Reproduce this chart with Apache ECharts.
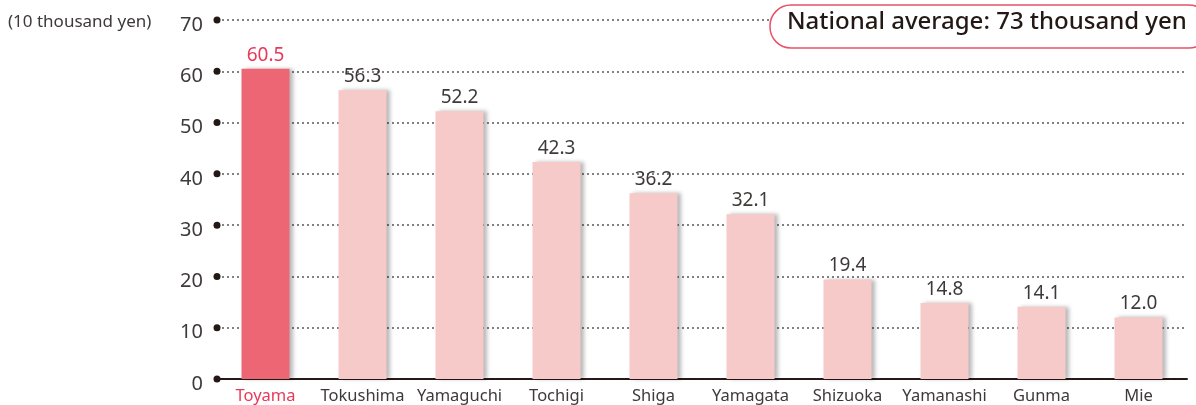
<!DOCTYPE html>
<html>
<head>
<meta charset="utf-8">
<script src="https://cdn.jsdelivr.net/npm/echarts@6/dist/echarts.min.js"></script>
<style>
  html, body { margin: 0; padding: 0; background: #fff; }
  #chart { width: 1196px; height: 405px; }
</style>
</head>
<body>
<div id="chart"></div>
<script>
// prefectures and amount (10 thousand yen)
const prefectures = ['Toyama', 'Tokushima', 'Yamaguchi', 'Tochigi', 'Shiga', 'Yamagata', 'Shizuoka', 'Yamanashi', 'Gunma', 'Mie']
const amounts = [60.5, 56.3, 52.2, 42.3, 36.2, 32.1, 19.4, 14.8, 14.1, 12.0]
const yTicks = [0, 10, 20, 30, 40, 50, 60, 70]
const unitText = '(10 thousand yen)'
const badgeText = 'National average: 73 thousand yen'

const highlight = 'Toyama'
const font = '"Noto Sans", sans-serif'

const chart = echarts.init(document.getElementById('chart'))

const option = {
  animation: false,
  grid: { left: 217, right: 9, top: 20, bottom: 24 },
  xAxis: {
    type: 'category',
    data: prefectures,
    axisLine: { lineStyle: { color: '#231815', width: 2, type: [2, 1] } },
    axisTick: { show: false },
    axisLabel: {
      interval: 0,
      margin: 9,
      fontSize: 16.5,
      fontFamily: font,
      color: (v) => v === highlight ? '#e8395a' : '#3e3a39'
    }
  },
  yAxis: {
    type: 'value',
    min: 0,
    max: 70,
    interval: 10,
    axisLine: { show: false },
    axisTick: { show: false },
    axisLabel: {
      margin: 14,
      formatter: (v) => '{n|' + v + '}',
      rich: { n: { fontSize: 20, fontFamily: font, color: '#3e3a39', padding: [10, 0, 0, 0] } }
    },
    splitLine: { lineStyle: { color: '#595757', width: 1.5, type: [2, 3] } }
  },
  series: [{
    type: 'bar',
    barWidth: 48,
    data: amounts.map((v, i) => ({
      value: v,
      itemStyle: { color: prefectures[i] === highlight ? '#ec6773' : '#f7caca' },
      label: prefectures[i] === highlight ? { color: '#e8395a' } : {}
    })),
    itemStyle: {
      shadowColor: 'rgba(0,0,0,0.28)',
      shadowBlur: 4,
      shadowOffsetX: 3,
      shadowOffsetY: 0
    },
    label: {
      show: true,
      position: 'top',
      distance: 4,
      fontSize: 19,
      fontFamily: font,
      color: '#3e3a39',
      formatter: (p) => p.value.toFixed(1)
    }
  }],
  graphic: []
}

chart.setOption(option)

// dots at each y tick, placed through the axis scale
const dots = yTicks.map((t) => ({
  type: 'circle',
  shape: { cx: 217, cy: chart.convertToPixel({ yAxisIndex: 0 }, t), r: 3.5 },
  style: { fill: '#231815' },
  z: 100
}))

chart.setOption({
  graphic: [
    ...dots,
    {
      type: 'text',
      left: 8,
      top: 14,
      style: { text: unitText, fontSize: 17, fontFamily: font, fill: '#3e3a39' }
    },
    {
      type: 'rect',
      shape: { x: 770, y: 5, width: 440, height: 43, r: 21 },
      style: { fill: '#fff', stroke: '#e8506a', lineWidth: 1.5 },
      z: 90
    },
    {
      type: 'text',
      left: 787,
      top: 10,
      style: { text: badgeText, fontSize: 24, fontWeight: 500, fontFamily: font, fill: '#231815' },
      z: 91
    }
  ]
})
</script>
</body>
</html>
